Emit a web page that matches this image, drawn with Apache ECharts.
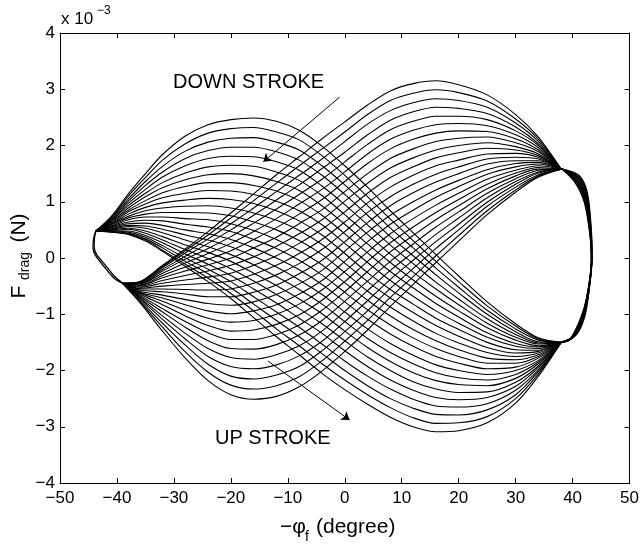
<!DOCTYPE html>
<html><head><meta charset="utf-8">
<script src="https://cdn.jsdelivr.net/npm/echarts@6/dist/echarts.min.js"></script>
<style>html,body{margin:0;padding:0;background:#fff}#c{width:642px;height:551px}</style>
</head><body><div id="c"></div>
<script>
// ---- data (y values in units of 1e-3 N) ----
const xTicks = [-50, -40, -30, -20, -10, 0, 10, 20, 30, 40, 50];
const yTicks = [-4, -3, -2, -1, 0, 1, 2, 3, 4];

// first half of each cycle: hump on the left, valley on the right
const downX = [-43.7, -41, -38, -35, -32, -28, -24, -20, -16, -12, -8, -4, 0, 4, 8, 12, 16, 20, 25, 30, 34, 38];
const downCurves = [
 [0.48, 0.74, 1.14, 1.50, 1.84, 2.17, 2.37, 2.46, 2.49, 2.43, 2.27, 1.99, 1.64, 1.26, 0.84, 0.45, 0.06, -0.32, -0.78, -1.17, -1.42, -1.50],
 [0.48, 0.72, 1.10, 1.43, 1.74, 2.03, 2.22, 2.30, 2.32, 2.24, 2.10, 1.82, 1.47, 1.09, 0.69, 0.31, -0.06, -0.42, -0.85, -1.21, -1.44, -1.50],
 [0.48, 0.71, 1.05, 1.36, 1.63, 1.90, 2.06, 2.13, 2.14, 2.06, 1.92, 1.64, 1.30, 0.93, 0.53, 0.18, -0.18, -0.52, -0.93, -1.26, -1.46, -1.50],
 [0.48, 0.69, 1.01, 1.29, 1.53, 1.77, 1.91, 1.97, 1.97, 1.89, 1.74, 1.47, 1.13, 0.76, 0.38, 0.04, -0.30, -0.62, -1.00, -1.31, -1.49, -1.50],
 [0.48, 0.67, 0.97, 1.22, 1.44, 1.64, 1.77, 1.81, 1.80, 1.71, 1.56, 1.28, 0.95, 0.59, 0.23, -0.10, -0.43, -0.73, -1.08, -1.36, -1.51, -1.50],
 [0.48, 0.66, 0.93, 1.15, 1.34, 1.51, 1.62, 1.65, 1.63, 1.53, 1.38, 1.11, 0.77, 0.42, 0.07, -0.25, -0.55, -0.83, -1.16, -1.41, -1.53, -1.50],
 [0.48, 0.64, 0.89, 1.09, 1.25, 1.39, 1.48, 1.50, 1.46, 1.36, 1.20, 0.93, 0.60, 0.25, -0.08, -0.39, -0.68, -0.94, -1.24, -1.46, -1.56, -1.50],
 [0.48, 0.63, 0.85, 1.02, 1.16, 1.27, 1.34, 1.34, 1.29, 1.19, 1.02, 0.76, 0.43, 0.09, -0.24, -0.53, -0.81, -1.05, -1.33, -1.52, -1.58, -1.50],
 [0.48, 0.61, 0.82, 0.96, 1.07, 1.15, 1.20, 1.19, 1.13, 1.01, 0.84, 0.59, 0.26, -0.08, -0.40, -0.68, -0.94, -1.16, -1.41, -1.57, -1.61, -1.50],
 [0.48, 0.60, 0.78, 0.90, 0.98, 1.03, 1.06, 1.04, 0.97, 0.84, 0.66, 0.41, 0.08, -0.26, -0.56, -0.82, -1.07, -1.27, -1.50, -1.63, -1.64, -1.50],
 [0.48, 0.59, 0.74, 0.84, 0.89, 0.92, 0.93, 0.89, 0.80, 0.67, 0.49, 0.24, -0.09, -0.42, -0.71, -0.97, -1.20, -1.39, -1.59, -1.69, -1.66, -1.50],
 [0.48, 0.57, 0.71, 0.78, 0.81, 0.81, 0.80, 0.75, 0.64, 0.50, 0.31, 0.06, -0.26, -0.59, -0.87, -1.12, -1.34, -1.51, -1.68, -1.75, -1.69, -1.50],
 [0.48, 0.56, 0.68, 0.73, 0.73, 0.70, 0.68, 0.61, 0.49, 0.33, 0.13, -0.12, -0.44, -0.75, -1.03, -1.27, -1.47, -1.63, -1.78, -1.81, -1.72, -1.50],
 [0.48, 0.55, 0.64, 0.67, 0.66, 0.60, 0.55, 0.47, 0.33, 0.17, -0.04, -0.30, -0.61, -0.92, -1.19, -1.42, -1.61, -1.75, -1.87, -1.87, -1.75, -1.50],
 [0.48, 0.54, 0.61, 0.62, 0.58, 0.50, 0.43, 0.33, 0.18, 0.00, -0.21, -0.47, -0.78, -1.09, -1.35, -1.57, -1.75, -1.87, -1.97, -1.94, -1.78, -1.50],
 [0.48, 0.52, 0.58, 0.57, 0.51, 0.41, 0.32, 0.20, 0.03, -0.16, -0.39, -0.65, -0.96, -1.26, -1.52, -1.73, -1.90, -2.00, -2.07, -2.00, -1.82, -1.50],
 [0.48, 0.51, 0.56, 0.53, 0.45, 0.32, 0.20, 0.06, -0.12, -0.33, -0.56, -0.82, -1.13, -1.43, -1.68, -1.88, -2.04, -2.13, -2.17, -2.07, -1.85, -1.50],
 [0.48, 0.50, 0.53, 0.48, 0.38, 0.23, 0.10, -0.06, -0.27, -0.49, -0.73, -0.99, -1.30, -1.59, -1.84, -2.04, -2.18, -2.25, -2.27, -2.14, -1.88, -1.50],
 [0.48, 0.49, 0.51, 0.44, 0.32, 0.15, -0.01, -0.19, -0.41, -0.65, -0.90, -1.17, -1.47, -1.76, -2.00, -2.20, -2.33, -2.39, -2.38, -2.21, -1.92, -1.50],
 [0.48, 0.48, 0.48, 0.40, 0.27, 0.07, -0.11, -0.31, -0.55, -0.80, -1.07, -1.34, -1.65, -1.93, -2.17, -2.35, -2.48, -2.52, -2.48, -2.28, -1.95, -1.50],
 [0.48, 0.48, 0.46, 0.37, 0.22, 0.00, -0.20, -0.42, -0.69, -0.96, -1.23, -1.53, -1.83, -2.10, -2.33, -2.51, -2.63, -2.65, -2.59, -2.35, -1.99, -1.50],
 [0.48, 0.47, 0.44, 0.34, 0.18, -0.06, -0.28, -0.53, -0.82, -1.11, -1.40, -1.70, -2.00, -2.27, -2.50, -2.67, -2.78, -2.79, -2.70, -2.43, -2.02, -1.50],
 [0.48, 0.46, 0.43, 0.32, 0.14, -0.11, -0.36, -0.63, -0.94, -1.26, -1.56, -1.88, -2.17, -2.43, -2.66, -2.84, -2.94, -2.93, -2.82, -2.50, -2.06, -1.50],
 [0.48, 0.46, 0.42, 0.30, 0.12, -0.15, -0.42, -0.72, -1.06, -1.40, -1.72, -2.05, -2.34, -2.60, -2.83, -3.00, -3.09, -3.07, -2.93, -2.58, -2.10, -1.50]
];

// second half of each cycle: valley on the left, hump on the right
const upX = [-39, -36, -32, -28, -24, -20, -16, -12, -8, -4, 0, 4, 8, 12, 16, 20, 25, 30, 34, 38];
const upCurves = [
 [-0.45, -0.79, -1.30, -1.78, -2.18, -2.43, -2.51, -2.46, -2.29, -2.01, -1.66, -1.28, -0.86, -0.47, -0.08, 0.30, 0.77, 1.17, 1.44, 1.58],
 [-0.45, -0.77, -1.23, -1.67, -2.03, -2.26, -2.33, -2.27, -2.11, -1.83, -1.48, -1.11, -0.70, -0.33, 0.04, 0.40, 0.84, 1.21, 1.46, 1.58],
 [-0.45, -0.75, -1.16, -1.55, -1.89, -2.10, -2.15, -2.08, -1.93, -1.65, -1.31, -0.94, -0.54, -0.19, 0.17, 0.50, 0.92, 1.26, 1.48, 1.58],
 [-0.45, -0.72, -1.09, -1.44, -1.75, -1.93, -1.97, -1.90, -1.74, -1.48, -1.13, -0.76, -0.38, -0.04, 0.29, 0.60, 0.99, 1.31, 1.51, 1.58],
 [-0.45, -0.70, -1.03, -1.34, -1.61, -1.77, -1.80, -1.72, -1.56, -1.30, -0.95, -0.58, -0.22, 0.10, 0.42, 0.71, 1.07, 1.36, 1.53, 1.58],
 [-0.45, -0.68, -0.96, -1.23, -1.47, -1.61, -1.62, -1.54, -1.37, -1.11, -0.77, -0.41, -0.06, 0.25, 0.55, 0.82, 1.15, 1.41, 1.56, 1.58],
 [-0.45, -0.66, -0.90, -1.13, -1.33, -1.45, -1.45, -1.36, -1.19, -0.93, -0.60, -0.24, 0.11, 0.40, 0.68, 0.93, 1.23, 1.46, 1.58, 1.58],
 [-0.45, -0.64, -0.83, -1.03, -1.20, -1.30, -1.28, -1.18, -1.01, -0.75, -0.42, -0.06, 0.27, 0.55, 0.81, 1.04, 1.31, 1.51, 1.61, 1.58],
 [-0.45, -0.62, -0.77, -0.93, -1.07, -1.14, -1.11, -1.00, -0.82, -0.57, -0.24, 0.11, 0.43, 0.70, 0.94, 1.15, 1.40, 1.56, 1.64, 1.58],
 [-0.45, -0.61, -0.71, -0.83, -0.94, -0.99, -0.94, -0.83, -0.64, -0.40, -0.06, 0.29, 0.60, 0.85, 1.08, 1.27, 1.49, 1.62, 1.67, 1.58],
 [-0.45, -0.59, -0.66, -0.74, -0.81, -0.84, -0.78, -0.65, -0.46, -0.22, 0.12, 0.46, 0.76, 1.00, 1.21, 1.38, 1.57, 1.68, 1.70, 1.58],
 [-0.45, -0.57, -0.60, -0.64, -0.69, -0.69, -0.61, -0.48, -0.28, -0.04, 0.29, 0.63, 0.93, 1.16, 1.35, 1.50, 1.67, 1.73, 1.73, 1.58],
 [-0.45, -0.55, -0.55, -0.56, -0.57, -0.55, -0.45, -0.30, -0.10, 0.15, 0.47, 0.81, 1.09, 1.31, 1.49, 1.62, 1.76, 1.79, 1.76, 1.58],
 [-0.45, -0.54, -0.50, -0.47, -0.45, -0.41, -0.29, -0.13, 0.08, 0.33, 0.64, 0.98, 1.26, 1.47, 1.64, 1.74, 1.85, 1.86, 1.79, 1.58],
 [-0.45, -0.52, -0.45, -0.39, -0.34, -0.27, -0.13, 0.04, 0.26, 0.51, 0.82, 1.15, 1.43, 1.62, 1.78, 1.87, 1.95, 1.92, 1.82, 1.58],
 [-0.45, -0.50, -0.40, -0.31, -0.23, -0.13, 0.02, 0.21, 0.43, 0.68, 1.01, 1.33, 1.60, 1.78, 1.92, 2.00, 2.05, 1.98, 1.85, 1.58],
 [-0.45, -0.49, -0.35, -0.23, -0.12, 0.00, 0.18, 0.37, 0.61, 0.86, 1.18, 1.50, 1.77, 1.94, 2.07, 2.13, 2.15, 2.05, 1.89, 1.58],
 [-0.45, -0.48, -0.31, -0.16, -0.02, 0.13, 0.33, 0.54, 0.78, 1.04, 1.36, 1.68, 1.94, 2.11, 2.22, 2.26, 2.25, 2.12, 1.92, 1.58],
 [-0.45, -0.46, -0.27, -0.09, 0.08, 0.26, 0.47, 0.70, 0.96, 1.22, 1.53, 1.85, 2.11, 2.27, 2.37, 2.39, 2.35, 2.19, 1.96, 1.58],
 [-0.45, -0.45, -0.23, -0.02, 0.17, 0.38, 0.62, 0.87, 1.13, 1.40, 1.71, 2.02, 2.28, 2.43, 2.52, 2.52, 2.46, 2.26, 2.00, 1.58],
 [-0.45, -0.44, -0.20, 0.03, 0.26, 0.50, 0.76, 1.03, 1.30, 1.59, 1.88, 2.19, 2.45, 2.60, 2.68, 2.66, 2.57, 2.33, 2.03, 1.58],
 [-0.45, -0.43, -0.17, 0.09, 0.34, 0.61, 0.89, 1.18, 1.47, 1.76, 2.07, 2.38, 2.62, 2.76, 2.83, 2.80, 2.68, 2.40, 2.07, 1.58],
 [-0.45, -0.43, -0.15, 0.13, 0.41, 0.71, 1.02, 1.33, 1.64, 1.94, 2.24, 2.55, 2.80, 2.93, 2.99, 2.94, 2.79, 2.47, 2.11, 1.58],
 [-0.45, -0.42, -0.13, 0.16, 0.47, 0.80, 1.14, 1.48, 1.80, 2.12, 2.42, 2.72, 2.97, 3.10, 3.15, 3.08, 2.90, 2.55, 2.15, 1.58]
];

// stroke reversal at the right end ([x, y] pairs)
const rightEdges = [
 [[38,-1.5],[40.6,-1.37],[42.1,-1.05],[42.9,-0.57],[43.4,0.0],[43.3,0.45],[42.6,1.15],[41.1,1.47],[38.2,1.58]],
 [[38,-1.5],[40.43,-1.38],[41.96,-1.06],[42.83,-0.60],[43.39,-0.01],[43.27,0.44],[42.53,1.13],[41.0,1.45],[38.2,1.58]],
 [[38,-1.5],[40.26,-1.40],[41.81,-1.08],[42.76,-0.62],[43.37,-0.01],[43.24,0.43],[42.46,1.10],[40.9,1.44],[38.2,1.58]],
 [[38,-1.5],[40.09,-1.41],[41.67,-1.09],[42.69,-0.65],[43.36,-0.02],[43.21,0.42],[42.39,1.08],[40.8,1.42],[38.2,1.58]],
 [[38,-1.5],[39.91,-1.42],[41.53,-1.11],[42.61,-0.67],[43.34,-0.03],[43.19,0.40],[42.31,1.05],[40.7,1.40],[38.2,1.58]],
 [[38,-1.5],[39.74,-1.43],[41.39,-1.12],[42.54,-0.70],[43.33,-0.04],[43.16,0.39],[42.24,1.03],[40.6,1.38],[38.2,1.58]],
 [[38,-1.5],[39.57,-1.45],[41.24,-1.14],[42.47,-0.72],[43.31,-0.04],[43.13,0.38],[42.17,1.00],[40.5,1.37],[38.2,1.58]],
 [[38,-1.5],[39.4,-1.46],[41.1,-1.15],[42.4,-0.75],[43.3,-0.05],[43.1,0.37],[42.1,0.98],[40.4,1.35],[38.2,1.58]]
];
// stroke reversal at the left end
const leftEdges = [
 [[-43.7,0.48],[-44.1,0.35],[-44.2,0.18],[-43.8,0.05],[-42.2,-0.16],[-40.5,-0.36],[-39.0,-0.45]],
 [[-43.7,0.48],[-43.95,0.35],[-44.0,0.2],[-43.6,0.07],[-42.0,-0.13],[-40.4,-0.33],[-39.0,-0.45]]
];

const downArrow = [[-0.9, 2.86], [-14.3, 1.71]];
const upArrow = [[-13.5, -1.83], [0.85, -2.88]];

// ---- chart ----
const chart = echarts.init(document.getElementById('c'), null, {renderer: 'canvas'});
const FONT = '"Liberation Sans", Arial, Helvetica, sans-serif';
const minus = v => String(v).replace('-', '\u2212');
const lineSeries = (data) => ({
  type: 'line', data, showSymbol: false, symbol: 'none', smooth: 0.3,
  lineStyle: {color: '#000', width: 1.1}, silent: true, animation: false, z: 3
});
const series = [];
downCurves.forEach(c => series.push(lineSeries(downX.map((x, i) => [x, c[i]]))));
upCurves.forEach(c => series.push(lineSeries(upX.map((x, i) => [x, c[i]]))));
rightEdges.forEach(c => { const s = lineSeries(c); s.lineStyle.width = 1.4; series.push(s); });
leftEdges.forEach(c => { const s = lineSeries(c); s.lineStyle.width = 1.3; series.push(s); });
[downArrow, upArrow].forEach(a => series.push({
  type: 'lines', coordinateSystem: 'cartesian2d', polyline: false,
  symbol: ['none', 'arrow'], symbolSize: 8,
  lineStyle: {color: '#000', width: 1, opacity: 1}, data: [{coords: a}], silent: true, animation: false, z: 4
}));

const axisCommon = {
  type: 'value', splitLine: {show: false},
  axisLine: {show: true, onZero: false, lineStyle: {color: '#000', width: 1}},
  axisTick: {show: true, inside: true, length: 5, lineStyle: {color: '#000', width: 1}}
};
const tickLabel = {color: '#000', fontSize: 17, fontFamily: FONT, formatter: minus};

chart.setOption({
  animation: false,
  backgroundColor: '#fff',
  grid: {left: 60, right: 11, top: 33, bottom: 68, containLabel: false},
  xAxis: [
    Object.assign({}, axisCommon, {position: 'bottom', min: xTicks[0], max: xTicks[xTicks.length - 1], interval: 10,
      axisLabel: Object.assign({}, tickLabel, {margin: 7})}),
    Object.assign({}, axisCommon, {position: 'top', min: xTicks[0], max: xTicks[xTicks.length - 1], interval: 10,
      axisLabel: {show: false}})
  ],
  yAxis: [
    Object.assign({}, axisCommon, {position: 'left', min: yTicks[0], max: yTicks[yTicks.length - 1], interval: 1,
      axisLabel: Object.assign({}, tickLabel, {margin: 5})}),
    Object.assign({}, axisCommon, {position: 'right', min: yTicks[0], max: yTicks[yTicks.length - 1], interval: 1,
      axisLabel: {show: false}})
  ],
  series,
  graphic: [
    {type: 'text', x: 61, y: 19, style: {text: 'x 10', font: '17px ' + FONT, fill: '#000', align: 'left', verticalAlign: 'middle'}},
    {type: 'text', x: 97, y: 11, style: {text: '\u22123', font: '12px ' + FONT, fill: '#000', align: 'left', verticalAlign: 'middle'}},
    {type: 'text', x: 173, y: 82, style: {text: 'DOWN STROKE', font: '20px ' + FONT, fill: '#000', align: 'left', verticalAlign: 'middle'}},
    {type: 'text', x: 215, y: 438, style: {text: 'UP STROKE', font: '20px ' + FONT, fill: '#000', align: 'left', verticalAlign: 'middle'}},
    {type: 'text', x: 280, y: 527, style: {text: '\u2212\u03c6', font: '21px ' + FONT, fill: '#000', align: 'left', verticalAlign: 'middle'}},
    {type: 'text', x: 305, y: 537, style: {text: 'f', font: '14px ' + FONT, fill: '#000', align: 'left', verticalAlign: 'middle'}},
    {type: 'text', x: 316, y: 527, style: {text: '(degree)', font: '21px ' + FONT, fill: '#000', align: 'left', verticalAlign: 'middle'}},
    {type: 'text', x: 19, y: 292, rotation: Math.PI / 2, style: {text: 'F', font: '21px ' + FONT, fill: '#000', align: 'center', verticalAlign: 'middle'}},
    {type: 'text', x: 25, y: 266, rotation: Math.PI / 2, style: {text: 'drag', font: '14px ' + FONT, fill: '#000', align: 'center', verticalAlign: 'middle'}},
    {type: 'text', x: 19, y: 228, rotation: Math.PI / 2, style: {text: '(N)', font: '21px ' + FONT, fill: '#000', align: 'center', verticalAlign: 'middle'}}
  ]
});
</script></body></html>
